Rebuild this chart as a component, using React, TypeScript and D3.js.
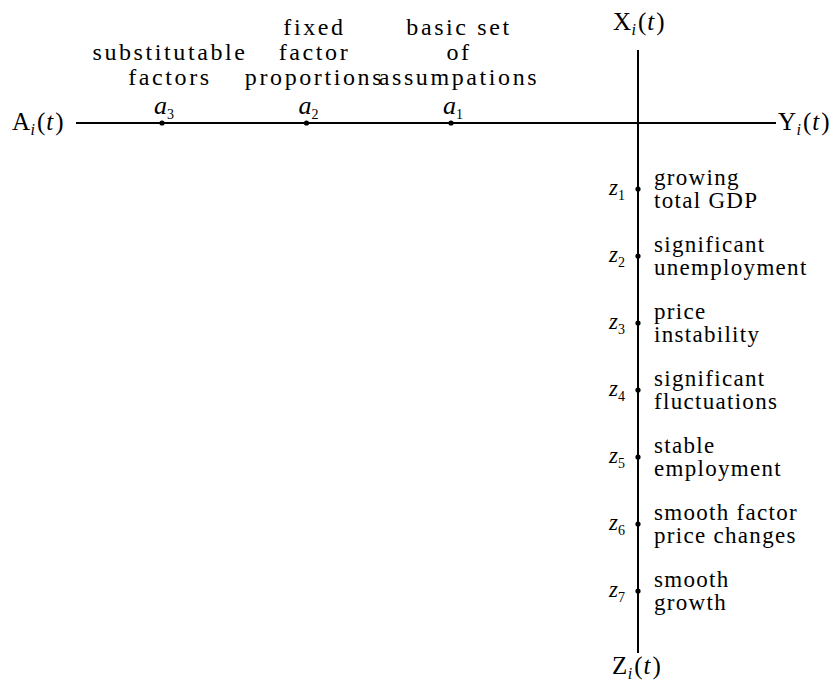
import React from "react";
import * as d3 from "d3";

// ---- data ----
const aSubs = ["3", "2", "1"];
const aLabelLines = [
  ["substitutable", "factors"],
  ["fixed", "factor", "proportions"],
  ["basic set", "of", "assumpations"],
];
const zSubs = ["1", "2", "3", "4", "5", "6", "7"];
const zLine1 = ["growing", "significant", "price", "significant", "stable", "smooth factor", "smooth"];
const zLine2 = ["total GDP", "unemployment", "instability", "fluctuations", "employment", "price changes", "growth"];

const W = 837;
const H = 688;
const originX = 638;
const originY = 123;
const serif = "Liberation Serif";

function AxisLabel({ x, y, main }: { x: number; y: number; main: string }) {
  return (
    <text x={x} y={y} fontFamily={serif} fontSize={25} fill="#000">
      <tspan>{main}</tspan>
      <tspan fontStyle="italic" fontSize={16} dy={5} dx={0.5}>i</tspan>
      <tspan dy={-5} dx={2}>(</tspan>
      <tspan fontStyle="italic" dx={1}>t</tspan>
      <tspan dx={2}>)</tspan>
    </text>
  );
}

export default function App() {
  const xA = d3.scalePoint<string>().domain(aSubs).range([162, 451]);
  const yZ = d3.scalePoint<string>().domain(zSubs).range([189, 591]);
  const lineH = 25;
  const topBase = 85;

  return (
    <svg width={W} height={H} style={{ position: "absolute", left: 0, top: 0, display: "block", background: "#fff" }}>
      <line x1={76} x2={776} y1={originY} y2={originY} stroke="#000" strokeWidth={2} />
      <line x1={originX} x2={originX} y1={50} y2={653} stroke="#000" strokeWidth={2} />

      <AxisLabel x={12} y={130} main="A" />
      <AxisLabel x={778} y={130} main="Y" />
      <AxisLabel x={613} y={30} main="X" />
      <AxisLabel x={612} y={674} main="Z" />

      {aSubs.map((s, i) => {
        const x = xA(s)!;
        const lines = aLabelLines[i];
        return (
          <g key={"a" + s}>
            <circle cx={x} cy={originY} r={2.6} fill="#000" />
            <text x={x - 8} y={114} fontFamily={serif} fontSize={26} fill="#000">
              <tspan fontStyle="italic">a</tspan>
              <tspan fontSize={14} dy={5}>{s}</tspan>
            </text>
            {lines.map((ln, j) => (
              <text
                key={j}
                x={x + 8}
                y={topBase - (lines.length - 1 - j) * lineH}
                fontFamily={serif}
                fontSize={24}
                letterSpacing={2.6}
                textAnchor="middle"
                fill="#000"
              >
                {ln}
              </text>
            ))}
          </g>
        );
      })}

      {zSubs.map((s, i) => {
        const y = yZ(s)!;
        return (
          <g key={"z" + s}>
            <circle cx={originX} cy={y} r={2.6} fill="#000" />
            <text x={609} y={y + 6} fontFamily={serif} fontSize={23} fill="#000">
              <tspan fontStyle="italic">z</tspan>
              <tspan fontSize={14} dy={5}>{s}</tspan>
            </text>
            <text x={654} y={y - 4} fontFamily={serif} fontSize={23} letterSpacing={1.3} fill="#000">
              {zLine1[i]}
            </text>
            <text x={654} y={y + 19} fontFamily={serif} fontSize={23} letterSpacing={1.3} fill="#000">
              {zLine2[i]}
            </text>
          </g>
        );
      })}
    </svg>
  );
}
